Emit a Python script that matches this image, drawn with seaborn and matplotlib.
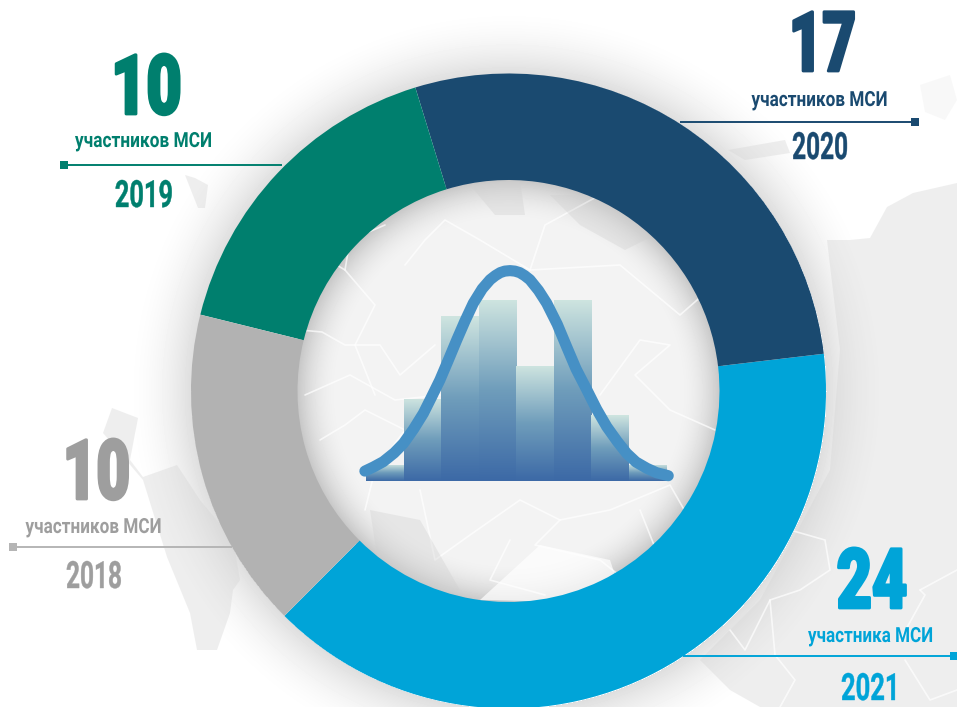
import numpy as np
import matplotlib.pyplot as plt
import matplotlib.patheffects as pe
import seaborn as sns
from matplotlib.patches import Rectangle
from matplotlib.transforms import Affine2D

sns.set_theme(style="white")
plt.rcParams["font.family"] = ["Roboto", "DejaVu Sans"]

W, H = 957, 707
CX, CY, R_OUT, R_IN = 508.5, 391, 317.5, 211

years = ["2021", "2020", "2019", "2018"]
participants = [24, 17, 10, 10]
captions = ["участника МСИ", "участников МСИ", "участников МСИ", "участников МСИ"]
ring_colors = ["#00a4d8", "#1a4a70", "#007f6e", "#b2b2b2"]

hist_counts = [1, 5, 10, 11, 7, 11, 4, 1]
curve_x = [-0.03, 0.2, 0.46, 0.75, 1.0, 1.27, 1.53, 1.75, 1.97, 2.2, 2.42, 2.64, 2.86, 3.1, 3.31, 3.45, 3.58, 3.7, 3.84,
           3.97, 4.1, 4.23, 4.37, 4.6, 4.82, 5.1, 5.35, 5.6, 5.89, 6.15, 6.42, 6.7, 6.95, 7.2, 7.49, 7.75, 8.06]
curve_y = [0.6, 0.85, 1.17, 1.7, 2.28, 3.15, 4.1, 5.1, 6.12, 7.35, 8.55, 9.7, 10.77, 11.65, 12.2, 12.45, 12.63, 12.72, 12.75,
           12.72, 12.63, 12.45, 12.2, 11.55, 10.77, 9.5, 8.14, 6.8, 5.52, 4.35, 3.29, 2.4, 1.68, 1.15, 0.77, 0.5, 0.32]


class Squeeze(pe.AbstractPathEffect):
    # the reference font is condensed, none is installed, so narrow the glyphs about their centre
    def __init__(self, width_px, stroke=0.0):
        super().__init__()
        self.width_px = width_px
        self.stroke = stroke

    def draw_path(self, renderer, gc, tpath, affine, rgbFace=None):
        m = affine.get_matrix().copy()
        box = tpath.get_extents()
        centre = m[0, 2] + m[0, 0] * (box.x0 + box.x1) / 2
        sx = self.width_px / (m[0, 0] * box.width)
        m[0, 0] *= sx
        m[0, 2] = centre - m[0, 0] * (box.x0 + box.x1) / 2
        gc0 = renderer.new_gc()
        gc0.copy_properties(gc)
        gc0.set_foreground(rgbFace)
        gc0.set_linewidth(self.stroke)
        renderer.draw_path(gc0, tpath, Affine2D(m), rgbFace)
        gc0.restore()


fig = plt.figure(figsize=(W / 100, H / 100), dpi=100, facecolor="white")

# background: soft shadow around the ring and shaded disc in the hole
bg = fig.add_axes([0, 0, 1, 1])
bg.set_xlim(0, W)
bg.set_ylim(H, 0)
bg.axis("off")
yy, xx = np.mgrid[0:H, 0:W]
rr = np.hypot(xx - CX, yy - CY)
shade = np.where(rr > R_OUT, 1 - 0.13 * np.clip(1 - (rr - R_OUT) / 70, 0, 1) ** 2, 1.0)
disc = 0.953 - 0.17 * np.clip((rr - R_IN + 42) / 42, 0, 1) ** 2
shade = np.where(rr < R_IN + 5, disc, shade)
bg.imshow(shade, cmap="gray", vmin=0, vmax=1, extent=(0, W, H, 0), aspect="auto", zorder=0)

# faint map shapes outside the ring
blobs = [
    [(112, 408), (138, 418), (130, 460), (143, 477), (177, 465), (200, 500), (233, 540), (240, 580), (233, 590),
     (230, 613), (217, 650), (197, 650), (190, 613), (167, 557), (143, 480), (103, 433)],
    [(827, 240), (850, 240), (870, 238), (887, 207), (913, 193), (957, 183), (957, 707), (760, 707), (730, 690),
     (700, 660), (760, 600), (830, 470), (840, 350)],
    [(728, 150), (785, 140), (790, 153), (745, 160)],
    [(185, 175), (195, 178), (208, 185), (205, 208), (198, 208)],
]
for blob in blobs:
    bg.fill(*zip(*blob), color="#d4d4d4", alpha=0.38, lw=0, zorder=1)
bg.fill([920, 950, 957, 945, 925], [85, 75, 100, 120, 112], color="#d4d4d4", alpha=0.15, lw=0, zorder=1)

# region borders, in the disc and lower right
borders = [
    [(300, 330), (322, 332), (345, 345), (380, 345), (400, 375), (435, 345)],
    [(305, 395), (350, 375), (395, 400), (440, 395)],
    [(320, 440), (345, 425), (365, 410), (405, 430), (375, 470), (365, 510)],
    [(345, 270), (375, 305), (355, 345), (375, 395)],
    [(320, 255), (345, 270), (350, 240), (385, 225)],
    [(405, 265), (425, 240), (445, 220), (480, 240), (530, 270), (620, 265), (680, 315), (720, 280)],
    [(530, 270), (545, 225), (600, 195)],
    [(600, 395), (640, 340), (670, 345), (635, 375), (670, 410), (715, 430)],
    [(420, 490), (435, 560), (470, 535), (520, 500), (560, 520), (610, 510), (670, 485), (690, 520)],
    [(510, 540), (490, 580), (545, 595)],
    [(560, 520), (535, 545), (600, 560), (625, 580)],
    [(640, 510), (660, 560)],
    [(790, 530), (825, 540), (830, 570), (800, 590), (770, 600), (775, 655), (795, 680), (780, 707)],
    [(730, 630), (745, 650), (770, 600)],
    [(920, 590), (957, 570)],
    [(900, 640), (925, 595), (920, 590)],
    [(905, 660), (930, 700), (957, 690)],
]
for line in borders:
    bg.plot(*zip(*line), color="white", lw=1.2, alpha=0.7, zorder=2)
for blob in [
    [(470, 185), (520, 180), (525, 215), (495, 215)],
    [(550, 195), (600, 195), (655, 235), (625, 250), (580, 225)],
    [(380, 575), (400, 600), (460, 590), (420, 520), (370, 510)],
]:
    bg.fill(*zip(*blob), color="#cfcfcf", alpha=0.35, lw=0, zorder=2)
bg.fill([480, 540, 610, 620, 560, 490], [600, 545, 560, 590, 602, 600], color="white", alpha=0.7, lw=0, zorder=2)

# ring
ring = fig.add_axes([(CX - R_OUT) / W, 1 - (CY + R_OUT) / H, 2 * R_OUT / W, 2 * R_OUT / H])
ring.pie(participants, colors=ring_colors, startangle=-134.9, radius=1,
         wedgeprops={"width": (R_OUT - R_IN) / R_OUT, "linewidth": 0}, normalize=True)
ring.set_xlim(-1, 1)
ring.set_ylim(-1, 1)
ring.patch.set_alpha(0)
for p in ring.patches:
    p.set_clip_on(False)

# histogram in the hole, gradient bars clipped to the seaborn bars
hist = fig.add_axes([366 / W, 1 - 481 / H, 300 / W, 280 / H])
hist.patch.set_alpha(0)
positions = np.arange(len(hist_counts))
sns.barplot(x=positions, y=hist_counts, ax=hist, width=0.99, color="#4a78aa", native_scale=True, linewidth=0)
ramp = np.linspace(0, 1, 256).reshape(-1, 1)
cmap = sns.blend_palette(["#3c69a6", "#6f9dbb", "#cfe5e0"], as_cmap=True)
for bar in list(hist.patches):
    top = bar.get_height()
    im = hist.imshow(ramp, origin="lower", cmap=cmap, aspect="auto",
                     extent=(bar.get_x(), bar.get_x() + bar.get_width(), 0, top), zorder=2)
    im.set_clip_path(bar)
    bar.set_visible(False)
hist.set_xlim(-0.5, 7.5)
hist.set_ylim(0, 280 / 16.5)
sns.lineplot(x=np.array(curve_x) - 0.5, y=curve_y, ax=hist, color="#4690c5", lw=8, sort=False,
             solid_capstyle="round", solid_joinstyle="round", zorder=3, clip_on=False)
hist.axis("off")

# labels
over = fig.add_axes([0, 0, 1, 1])
over.set_xlim(0, W)
over.set_ylim(H, 0)
over.axis("off")
over.patch.set_alpha(0)

label_colors = ["#00a4d8", "#1a4a70", "#007f6e", "#9e9e9e"]
number_xy = [(872, 608), (822, 71), (146, 114), (96, 499)]
number_w = [67, 60, 63, 60]
caption_xy = [(871, 642), (820, 106), (144, 147), (94, 533)]
caption_w = [124, 135, 136, 135]
year_xy = [(871, 700), (820, 159), (144, 207), (94, 588)]
year_w = [53, 54, 56, 54]
leader_x = [(683, 957), (680, 915), (64, 282), (13, 232)]
leader_y = [656, 122, 165, 547]
square_x = [954, 915, 64, 13]

for i, year in enumerate(years):
    c = label_colors[i]
    over.text(*number_xy[i], str(participants[i]), color=c, fontsize=60, fontweight=900,
              ha="center", va="baseline", path_effects=[Squeeze(number_w[i], 2.0)])
    over.text(*caption_xy[i], captions[i], color=c, fontsize=15, fontweight="bold",
              ha="center", va="baseline", path_effects=[Squeeze(caption_w[i])])
    over.text(*year_xy[i], year, color=c, fontsize=27, fontweight="bold",
              ha="center", va="baseline", path_effects=[Squeeze(year_w[i], 0.3)])
    line_c = "#b5b5b5" if i == 3 else c
    over.plot(leader_x[i], [leader_y[i]] * 2, color=line_c, lw=1.4, solid_capstyle="butt")
    over.add_patch(Rectangle((square_x[i] - 4, leader_y[i] - 4), 8, 8, color=line_c, lw=0))

fig.savefig("out.png", dpi=100)
